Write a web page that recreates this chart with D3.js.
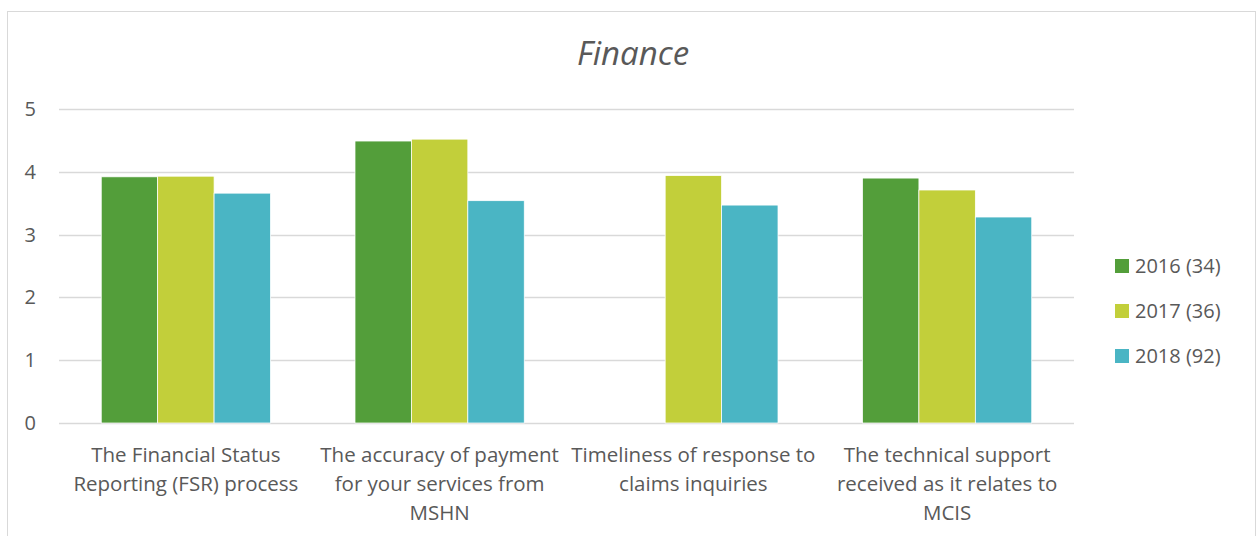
<!DOCTYPE html>
<html>
<head>
<meta charset="utf-8">
<script src="https://cdn.jsdelivr.net/npm/d3@7"></script>
<style>
  body { margin: 0; background: #fff; }
  svg { display: block; font-family: "Open Sans", sans-serif; }
</style>
</head>
<body>
<div id="chart"></div>
<script>
var categories = [
    ['The Financial Status', 'Reporting (FSR) process'],
    ['The accuracy of payment', 'for your services from', 'MSHN'],
    ['Timeliness of response to', 'claims inquiries'],
    ['The technical support', 'received as it relates to', 'MCIS']
];
var seriesNames = ['2016 (34)', '2017 (36)', '2018 (92)'];
var values2016 = [3.92, 4.49, null, 3.90];
var values2017 = [3.93, 4.52, 3.94, 3.71];
var values2018 = [3.66, 3.54, 3.47, 3.28];
var yTicks = [0, 1, 2, 3, 4, 5];

var colors = ['#539e3a', '#c2cf3a', '#4ab5c4'];
var series = [values2016, values2017, values2018];

var width = 1257;
var height = 536;
var plotLeft = 59, plotRight = 1074, plotTop = 109, plotBottom = 423;

var svg = d3.select('#chart')
    .append('svg')
    .attr('width', width)
    .attr('height', height);

// outer border
svg.append('rect')
    .attr('x', 7.5)
    .attr('y', 11.5)
    .attr('width', 1248)
    .attr('height', 560)
    .attr('fill', 'none')
    .attr('stroke', '#d9d9d9');

svg.append('text')
    .attr('x', 633)
    .attr('y', 65)
    .attr('text-anchor', 'middle')
    .style('font-size', '33px')
    .style('font-style', 'italic')
    .style('fill', '#595959')
    .text('Finance');

var x = d3.scaleBand()
    .domain(d3.range(categories.length))
    .range([plotLeft, plotRight])
    .paddingInner(0.333)
    .paddingOuter(0.1665);

var xs = d3.scaleBand()
    .domain(d3.range(series.length))
    .range([0, x.bandwidth()]);

var y = d3.scaleLinear()
    .domain([0, 5])
    .range([plotBottom, plotTop]);

// gridlines
svg.selectAll('.grid')
    .data(yTicks)
    .enter()
    .append('line')
    .attr('x1', plotLeft)
    .attr('x2', plotRight)
    .attr('y1', function (d) {return Math.round(y(d)) + 0.5;})
    .attr('y2', function (d) {return Math.round(y(d)) + 0.5;})
    .attr('stroke', '#d9d9d9')
    .attr('stroke-width', 1.5);

svg.selectAll('.ytick')
    .data(yTicks)
    .enter()
    .append('text')
    .attr('x', 36)
    .attr('y', function (d) {return y(d);})
    .attr('dy', '0.35em')
    .attr('text-anchor', 'end')
    .style('font-size', '20px')
    .style('fill', '#595959')
    .text(function (d) {return d;});

// bars
series.forEach(function (vals, s) {
    svg.selectAll('.bar' + s)
        .data(vals.map(function (v, i) {return {i: i, v: v};}).filter(function (d) {return d.v != null;}))
        .enter()
        .append('rect')
        .attr('x', function (d) {return x(d.i) + xs(s);})
        .attr('width', xs.bandwidth())
        .attr('y', function (d) {return y(d.v);})
        .attr('height', function (d) {return y(0) - y(d.v);})
        .attr('fill', colors[s])
        .attr('stroke', '#fff')
        .attr('stroke-width', 0.75);
});

// category labels
var labels = svg.selectAll('.cat')
    .data(categories)
    .enter()
    .append('text')
    .attr('text-anchor', 'middle')
    .style('font-size', '20.5px')
    .style('fill', '#595959');

labels.each(function (lines, i) {
    var t = d3.select(this);
    lines.forEach(function (line, j) {
        t.append('tspan')
            .attr('x', x(i) + x.bandwidth() / 2)
            .attr('y', 462 + j * 29)
            .text(line);
    });
});

// legend
var legend = svg.selectAll('.legend')
    .data(seriesNames)
    .enter()
    .append('g')
    .attr('transform', function (d, i) {return 'translate(1115,' + (259 + i * 45) + ')';});

legend.append('rect')
    .attr('width', 14)
    .attr('height', 14)
    .attr('fill', function (d, i) {return colors[i];});

legend.append('text')
    .attr('x', 20)
    .attr('y', 7)
    .attr('dy', '0.35em')
    .style('font-size', '20px')
    .style('fill', '#595959')
    .text(function (d) {return d;});
</script>
</body>
</html>
